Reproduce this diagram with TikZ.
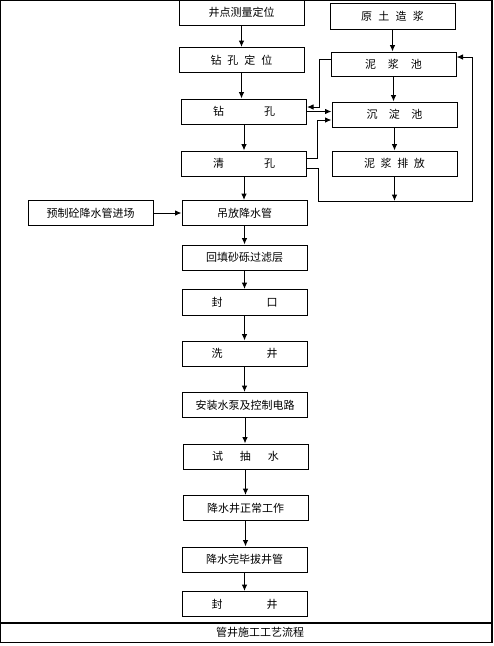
\documentclass[tikz,border=0pt]{standalone}
\usepackage{fontspec}
\setmainfont{Noto Sans CJK SC}
\usetikzlibrary{arrows.meta}

\newcommand{\spread}[2]{\makebox[#1pt][s]{#2}}

\begin{document}
\begin{tikzpicture}[x=1pt,y=-1pt,
  box/.style={draw,line width=1pt,minimum width=125pt,minimum height=25pt,inner sep=0pt,font=\fontsize{11}{13}\selectfont},
  flow/.style={line width=1pt,-{Latex[length=6.5pt,width=5.5pt]}}]

\useasboundingbox (0,0) rectangle (494,646);

% frame and title strip
\draw[line width=1.2pt] (0.8,0.6) rectangle (492,642.2);
\draw[line width=1.2pt] (0.8,623) -- (492,623);
\node[font=\fontsize{11}{13}\selectfont] (title) at (260,632.5) {管井施工工艺流程};

% main column
\node[box] (survey) at (241.5,12.8) {井点测量定位};
\node[box] (locate) at (241.5,60) {\spread{62}{钻 孔 定 位}};
\node[box] (drill) at (244,111.5) {\spread{62}{钻 孔}};
\node[box] (clean) at (244,163.5) {\spread{62}{清 孔}};
\node[box] (lower) at (244.5,213) {吊放降水管};
\node[box] (fill) at (244.5,257.5) {回填砂砾过滤层};
\node[box,minimum height=26pt] (seal) at (244.5,302.5) {\spread{66}{封 口}};
\node[box] (wash) at (244.5,353.5) {\spread{66}{洗 井}};
\node[box] (pump) at (245,405) {安装水泵及控制电路};
\node[box] (test) at (245.5,456.5) {\spread{67}{试 抽 水}};
\node[box] (work) at (245.5,508) {降水井正常工作};
\node[box] (pull) at (244.5,559.5) {降水完毕拔井管};
\node[box] (close) at (244.5,604) {\spread{66}{封 井}};

\node[box] (precast) at (90.5,213) {预制砼降水管进场};

% slurry column
\node[box,minimum height=26pt] (slurry) at (392.5,16) {\spread{63}{原 土 造 浆}};
\node[box,minimum height=24pt] (pit) at (393.5,64) {\spread{57}{泥 浆 池}};
\node[box] (settle) at (394.5,114.5) {\spread{56}{沉 淀 池}};
\node[box] (discharge) at (394.5,163.5) {\spread{61}{泥 浆 排 放}};

\coordinate (drain) at (394.5,201);

\foreach \a/\b in {survey/locate,locate/drill,drill/clean,clean/lower,lower/fill,fill/seal,seal/wash,wash/pump,pump/test,test/work,work/pull,pull/close}
  \draw[flow] (\a.south) -- (\a.south |- \b.north);

\draw[flow] (precast.east) -- (lower.west);

\foreach \a/\b in {slurry/pit,pit/settle,settle/discharge}
  \draw[flow] (\a.south) -- (\a.south |- \b.north);
\draw[flow] (discharge.south) -- (drain);

% slurry loops
\draw[flow] ([yshift=5pt]pit.west) -- (319,59) -- (319,107) -- ([yshift=4.5pt]drill.east);
\draw[flow] (drill.east) -- (drill.east -| settle.west);
\draw[flow] ([yshift=5.5pt]clean.east) -- (317,158) -- (317,120) -- ([yshift=-5.5pt]settle.west);
\draw[flow] ([yshift=-4.5pt]clean.east) -- (318,168) -- (318,201) -- (472,201) -- (472,57) -- ([yshift=7pt]pit.east);

\end{tikzpicture}
\end{document}
